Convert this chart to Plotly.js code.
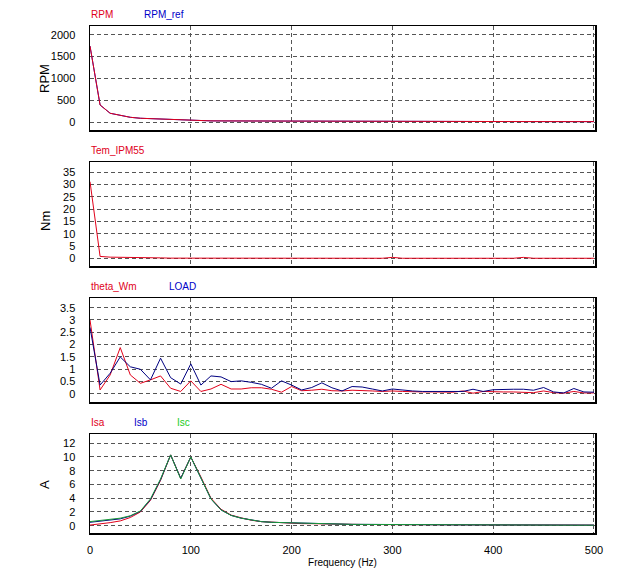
<!DOCTYPE html>
<html>
<head>
<meta charset="utf-8">
<script src="https://cdn.plot.ly/plotly-3.0.1.min.js"></script>
<style>html,body{margin:0;padding:0;background:#fff;}#chart{width:624px;height:585px;}</style>
</head>
<body>
<div id="chart"></div>
<script>
const freq = [0,10,20,30,40,50,60,70,80,90,100,110,120,130,140,150,160,170,180,190,200,210,220,230,240,250,260,270,280,290,300,310,320,330,340,350,360,370,380,390,400,410,420,430,440,450,460,470,480,490,500];

const rpm = [1740,390,200,146,108,86,77,64,55,40,32,28,26,25,24,23,22,21,20,20,19,18,18,17,17,16,16,15,15,14,14,14,13,13,13,12,12,12,11,11,11,11,10,10,10,10,9,9,9,9,9];
const rpmRef = [1740,390,200,146,108,86,77,64,55,40,32,28,26,25,24,23,22,21,20,20,19,18,18,17,17,16,16,15,15,14,14,14,13,13,13,12,12,12,11,11,11,11,10,10,10,10,9,9,9,9,9];

const temIPM55 = [31.2,0.8,0.5,0.5,0.5,0.5,0.4,0.2,0.1,0.1,0.3,0.2,0.3,0.2,0.3,0.3,0.3,0.1,0.05,0.05,0.1,0.3,0.3,0.3,0.1,0.3,0.1,0.05,0.05,0.05,0.4,0.05,0.05,0.05,0.05,0.05,0.05,0.05,0.05,0.05,0.05,0.05,0.05,0.4,0.05,0.05,0.05,0.05,0.05,0.05,0.05];

const thetaWm = [3.0,0.16,0.77,1.88,0.77,0.43,0.57,0.73,0.23,0.1,0.53,0.1,0.2,0.39,0.2,0.2,0.25,0.25,0.19,0.07,0.3,0.13,0.15,0.19,0.13,0.12,0.15,0.15,0.12,0.1,0.12,0.1,0.08,0.08,0.08,0.07,0.07,0.12,0.03,0.1,0.08,0.08,0.08,0.08,0.05,0.12,0.05,0.03,0.1,0.04,0.04];
const load = [2.7,0.36,0.84,1.5,1.1,1.0,0.57,1.45,0.66,0.4,1.22,0.36,0.73,0.69,0.5,0.53,0.47,0.39,0.23,0.53,0.36,0.16,0.26,0.45,0.25,0.12,0.3,0.28,0.2,0.12,0.2,0.15,0.12,0.1,0.1,0.1,0.1,0.1,0.19,0.1,0.17,0.19,0.19,0.19,0.15,0.26,0.08,0.04,0.22,0.08,0.07];

const isa = [0.1,0.25,0.45,0.7,1.2,2.0,3.7,6.6,10.3,6.9,10.0,7.1,4.0,2.4,1.55,1.15,0.8,0.6,0.5,0.45,0.35,0.3,0.3,0.25,0.2,0.2,0.2,0.18,0.18,0.16,0.15,0.15,0.14,0.14,0.13,0.13,0.12,0.12,0.12,0.11,0.11,0.1,0.1,0.1,0.1,0.09,0.09,0.08,0.08,0.08,0.08];
const isb = [0.5,0.65,0.8,1.0,1.4,2.1,3.8,6.7,10.3,6.9,10.0,7.0,3.9,2.3,1.5,1.1,0.8,0.6,0.5,0.45,0.4,0.35,0.3,0.28,0.25,0.22,0.2,0.2,0.18,0.18,0.17,0.16,0.15,0.15,0.14,0.14,0.13,0.13,0.12,0.12,0.12,0.11,0.11,0.11,0.1,0.1,0.1,0.09,0.09,0.09,0.09];
const isc = [0.6,0.75,0.9,1.1,1.45,2.15,3.9,6.8,10.3,6.8,10.0,7.0,3.9,2.3,1.5,1.1,0.8,0.6,0.5,0.45,0.4,0.35,0.3,0.27,0.24,0.22,0.2,0.19,0.18,0.17,0.16,0.15,0.15,0.14,0.14,0.13,0.13,0.12,0.12,0.11,0.11,0.11,0.1,0.1,0.1,0.09,0.09,0.08,0.08,0.08,0.08];

const RED = '#e0001a', BLUE = '#0000c8', NAVY = '#000080', GREEN = '#22cc22';
const FONT = '"Liberation Sans", Arial, sans-serif';

function tr(y, name, color, xa, ya, w) {
  return {x: freq, y: y, name: name, type: 'scatter', mode: 'lines',
          line: {color: color, width: w || 1}, xaxis: xa, yaxis: ya, showlegend: false};
}

const data = [
  tr(rpmRef, 'RPM_ref', BLUE, 'x', 'y'),
  tr(rpm, 'RPM', RED, 'x', 'y'),
  tr(temIPM55, 'Tem_IPM55', RED, 'x2', 'y2'),
  tr(thetaWm, 'theta_Wm', RED, 'x3', 'y3'),
  tr(load, 'LOAD', NAVY, 'x3', 'y3'),
  tr(isa, 'Isa', RED, 'x4', 'y4'),
  tr(isb, 'Isb', NAVY, 'x4', 'y4'),
  tr(isc, 'Isc', '#1a9a3a', 'x4', 'y4')
];

const W = 624, H = 585;
const xdom = [90 / W, 595 / W];
function yd(top, bottom) { return [1 - bottom / H, 1 - top / H]; }

function xax(anchor, showLabels) {
  return {domain: xdom, anchor: anchor, range: [0, 501], dtick: 100, tick0: 0,
          showgrid: true, gridcolor: '#555', griddash: '4px,3px', gridwidth: 1,
          showline: true, mirror: true, linecolor: '#000', linewidth: 1.5,
          zeroline: false, ticks: '', showticklabels: showLabels,
          ticklabelstandoff: 6, tickfont: {family: FONT, size: 11, color: '#000'}};
}
function yax(anchor, dom, range, dtick) {
  return {domain: dom, anchor: anchor, range: range, dtick: dtick, tick0: 0,
          showgrid: true, gridcolor: '#555', griddash: '4px,3px', gridwidth: 1,
          showline: true, mirror: true, linecolor: '#000', linewidth: 1.5,
          zeroline: false, ticks: '', ticklabelstandoff: 11,
          tickfont: {family: FONT, size: 11, color: '#000'}};
}

function lab(text, px, py, color) {
  return {text: text, x: px / W, y: 1 - py / H, xref: 'paper', yref: 'paper',
          xanchor: 'left', yanchor: 'middle', showarrow: false,
          font: {family: FONT, size: 10, color: color}};
}
function ytitle(text, px, py) {
  return {text: text, x: px / W, y: 1 - py / H, xref: 'paper', yref: 'paper',
          xanchor: 'center', yanchor: 'middle', showarrow: false, textangle: -90,
          font: {family: FONT, size: 13, color: '#000'}};
}

const layout = {
  width: W, height: H, margin: {l: 0, r: 0, t: 0, b: 0},
  paper_bgcolor: '#fff', plot_bgcolor: '#fff', showlegend: false,
  font: {family: FONT, size: 11, color: '#000'},
  xaxis: xax('y', false),
  xaxis2: xax('y2', false),
  xaxis3: xax('y3', false),
  xaxis4: Object.assign(xax('y4', true), {title: {text: 'Frequency (Hz)', font: {family: FONT, size: 10, color: '#000'}, standoff: 4}}),
  yaxis: yax('x', yd(26, 130), [-183, 2200], 500),
  yaxis2: yax('x2', yd(162, 266), [-3.1, 39.2], 5),
  yaxis3: yax('x3', yd(298.3, 402.3), [-0.34, 3.88], 0.5),
  yaxis4: yax('x4', yd(434.3, 533.3), [-1.1, 13.3], 2),
  annotations: [
    lab('RPM', 89, 14, RED), lab('RPM_ref', 142, 14, BLUE),
    lab('Tem_IPM55', 89, 150, RED),
    lab('theta_Wm', 89, 286, RED), lab('LOAD', 167, 286, BLUE),
    lab('Isa', 89, 422, RED), lab('Isb', 132, 422, BLUE), lab('Isc', 175, 422, GREEN),
    ytitle('RPM', 45, 78), ytitle('Nm', 45, 221), ytitle('A', 45, 484)
  ]
};

Plotly.newPlot('chart', data, layout, {displayModeBar: false, staticPlot: true});
</script>
</body>
</html>
